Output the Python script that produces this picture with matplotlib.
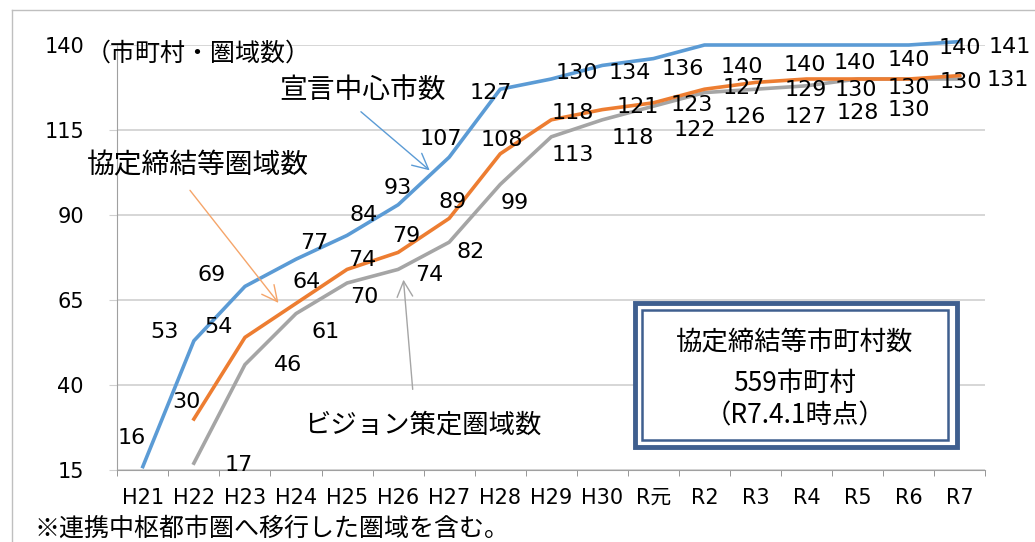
import numpy as np
import matplotlib
matplotlib.use('Agg')
import matplotlib.pyplot as plt
from matplotlib.patches import Rectangle
from matplotlib.lines import Line2D

plt.rcParams['font.family'] = ['DejaVu Sans', 'Noto Sans CJK JP']
cjk = ['Noto Sans CJK JP', 'DejaVu Sans']

years = ['H21', 'H22', 'H23', 'H24', 'H25', 'H26', 'H27', 'H28', 'H29', 'H30',
         'R元', 'R2', 'R3', 'R4', 'R5', 'R6', 'R7']
# 宣言中心市数
sengen = [16, 53, 69, 77, 84, 93, 107, 127, 130, 134, 136, 140, 140, 140, 140, 140, 141]
# 協定締結等圏域数
kyotei = [np.nan, 30, 54, 64, 74, 79, 89, 108, 118, 121, 123, 127, 129, 130, 130, 130, 131]
# ビジョン策定圏域数
vision = [np.nan, 17, 46, 61, 70, 74, 82, 99, 113, 118, 122, 126, 127, 128, 130, 130, 130]

# label offsets (pixels, right / down) so the numbers sit like the original
off_sengen = [(-11, -29), (-29, -9), (-33, -11), (18, -16), (17, -20), (0, -17), (-8, -18),
              (-9, 4), (26, -6), (27, 8), (29, 10), (37, 22), (49, 20), (48, 18), (51, 15),
              (51, 3), (50, 5)]
off_kyotei = [None, (-7, -17), (-26, -10), (11, -21), (15, -9), (8, -16), (3, -16), (2, -14),
              (21, -7), (35, -3), (38, 2), (39, -1), (50, 8), (49, 11), (51, 9), (52, 3), (48, 4)]
off_vision = [None, (45, 2), (43, 0), (30, 18), (17, 14), (31, 6), (21, 10), (15, 19),
              (21, 18), (30, 18), (41, 24), (40, 24), (50, 28), (51, 27), (51, 31), None, None]

blue = '#5B9BD5'
orange = '#ED7D31'
gray = '#A5A5A5'

fig = plt.figure(figsize=(10.35, 5.42), dpi=100)
ax = fig.add_axes([0.11333, 0.13284, 0.83865, 0.78413])
x = np.arange(len(years))

ax.plot(x, sengen, color=blue, lw=2.6, clip_on=False, zorder=3)
ax.plot(x, kyotei, color=orange, lw=2.6, clip_on=False, zorder=3)
ax.plot(x, vision, color=gray, lw=2.6, clip_on=False, zorder=2)

for vals, offs in [(sengen, off_sengen), (kyotei, off_kyotei), (vision, off_vision)]:
    for i, v in enumerate(vals):
        if offs[i] is None or np.isnan(v):
            continue
        dx, dy = offs[i]
        ax.annotate(str(v), (i, v), xytext=(dx, -dy), textcoords='offset pixels',
                    ha='center', va='center', fontsize=16, color='black', zorder=5,
                    annotation_clip=False)

ax.set_xlim(-0.5, len(years) - 0.5)
ax.set_ylim(15, 140)
ax.set_yticks([15, 40, 65, 90, 115, 140])
ax.set_xticks(x)
ax.set_xticklabels(years)
ax.set_xticks(np.arange(-0.5, len(years)), minor=True)
ax.tick_params(axis='x', which='major', length=0, pad=13, labelsize=15)
ax.tick_params(axis='x', which='minor', length=4, color='#868686', direction='out')
ax.tick_params(axis='y', length=6, color='#D0D0D0', pad=18, labelsize=15)
ax.grid(axis='y', color='#D0D0D0', lw=1.2)
ax.set_axisbelow(True)
for s in ['top', 'right']:
    ax.spines[s].set_visible(False)
ax.spines['left'].set_color('#A0A0A0')
ax.spines['bottom'].set_color('#A0A0A0')

# series names with arrows
ax.text(1.08, 137.6, '（市町村・圏域数）', family=cjk, fontsize=18, ha='center', va='center')
ax.text(4.30, 126.8, '宣言中心市数', family=cjk, fontsize=20, ha='center', va='center')
ax.annotate('', xy=(5.66, 102.6), xytext=(4.23, 120.9),
            arrowprops=dict(arrowstyle='->', color=blue, lw=1, mutation_scale=28))
ax.text(1.08, 104.7, '協定締結等圏域数', family=cjk, fontsize=20, ha='center', va='center')
ax.annotate('', xy=(2.69, 63.5), xytext=(0.89, 97.9),
            arrowprops=dict(arrowstyle='->', color='#F5A56A', lw=1, mutation_scale=28))
ax.text(5.49, 28.2, 'ビジョン策定圏域数', family=cjk, fontsize=19, ha='center', va='center')
ax.annotate('', xy=(5.10, 71.8), xytext=(5.29, 37.9),
            arrowprops=dict(arrowstyle='->', color=gray, lw=1, mutation_scale=28))

# double framed box
boxc = '#3F5F8F'
fig.add_artist(Rectangle((0.6135, 0.1753), 0.3111, 0.2657, transform=fig.transFigure,
                         facecolor='white', edgecolor=boxc, lw=3.5, zorder=6))
fig.add_artist(Rectangle((0.6203, 0.1882), 0.2957, 0.2399, transform=fig.transFigure,
                         facecolor='none', edgecolor=boxc, lw=1.8, zorder=7))
fig.text(0.768, 0.367, '協定締結等市町村数', family=cjk, fontsize=19, ha='center', va='center', zorder=8)
fig.text(0.768, 0.2934, '559市町村', family=cjk, fontsize=19, ha='center', va='center', zorder=8)
fig.text(0.768, 0.2325, '（R7.4.1時点）', family=cjk, fontsize=19, ha='center', va='center', zorder=8)

# note and chart frame
fig.text(0.033, 0.025, '※連携中枢都市圏へ移行した圏域を含む。', family=cjk, fontsize=18,
         ha='left', va='center')
fig.add_artist(Line2D([12 / 1035, 12 / 1035], [0, 532 / 542], transform=fig.transFigure,
                      color='#BFBFBF', lw=1))
fig.add_artist(Line2D([12 / 1035, 1], [532 / 542, 532 / 542], transform=fig.transFigure,
                      color='#BFBFBF', lw=1))

fig.savefig('out.png', dpi=100)
